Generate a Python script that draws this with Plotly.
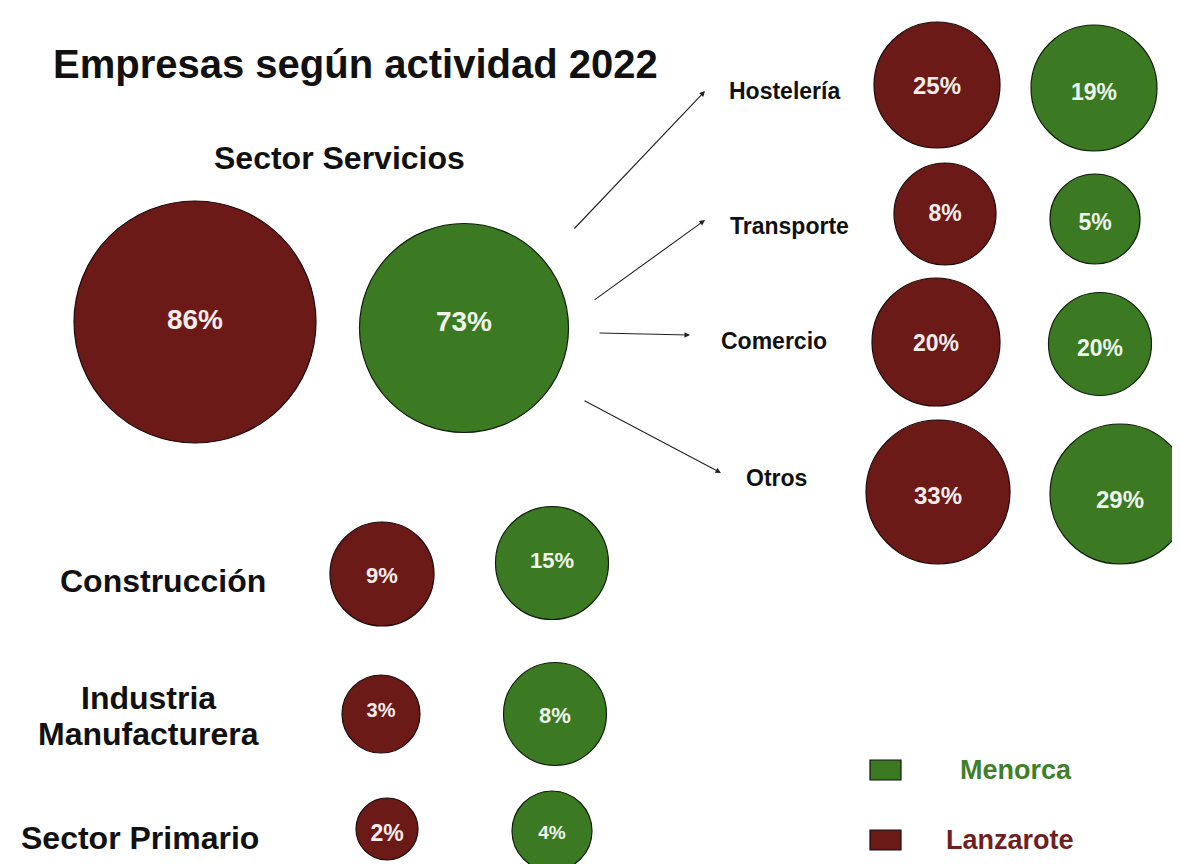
import plotly.graph_objects as go

# ---- data ----
categories = ["Sector Servicios", "Hostelería", "Transporte", "Comercio", "Otros",
              "Construcción", "Industria\nManufacturera", "Sector Primario"]
lanzarote = [86, 25, 8, 20, 33, 9, 3, 2]
menorca = [73, 19, 5, 20, 29, 15, 8, 4]
series_names = ["Menorca", "Lanzarote"]
title = "Empresas según actividad 2022"

# ---- layout (pixel space, y downward) ----
W, H = 1180, 864
lan_x = [187, 929, 937, 928, 930, 374, 373, 379]
men_x = [456, 1086, 1087, 1092, 1112, 544, 547, 544]
lan_y = [314, 77, 206, 334, 484, 566, 706, 821]
men_y = [320, 80, 211, 336, 486, 555, 706, 823]
lan_d = [242, 126, 102, 128, 144, 104, 78, 62]
men_d = [209, 126, 90, 103, 140, 113, 103, 80]
lan_text_y = [314, 80, 207, 337, 490, 569, 704, 827]
men_text_y = [316, 86, 216, 342, 494, 554, 709, 826]
lan_font = [28, 24, 23, 23, 24, 22, 20, 23]
men_font = [28, 23, 23, 23, 24, 22, 22, 19]

label_x = [331, 776, 781, 766, 768, 155, 140, 132]
label_y = [150, 83, 218, 333, 470, 573, 708, 830]
label_size = [32, 23, 23, 23, 23, 32, 32, 32]
line_gap = 36

# arrows: (tail, head) for the four sub-categories
arrow_tail = [(565, 222), (585, 293), (590, 325), (575, 392)]
arrow_head = [(697, 83), (697, 212), (682, 327), (713, 465)]

RED = "#6b1a17"
GREEN = "#3b7a22"
FONT = "Liberation Sans, Arial, sans-serif"

fig = go.Figure()

fig.add_trace(go.Scatter(
    x=lan_x, y=lan_y, mode="markers",
    marker=dict(size=lan_d, color=RED, line=dict(color="#1a0a0a", width=1.2), opacity=1),
    name=series_names[1], hoverinfo="skip", showlegend=False))
fig.add_trace(go.Scatter(
    x=men_x, y=men_y, mode="markers",
    marker=dict(size=men_d, color=GREEN, line=dict(color="#0f1f0a", width=1.2), opacity=1),
    name=series_names[0], hoverinfo="skip", showlegend=False))

fig.add_trace(go.Scatter(
    x=lan_x, y=lan_text_y, mode="text",
    text=[f"<b>{v}%</b>" for v in lanzarote], textposition="middle center",
    textfont=dict(color="#f4ecea", size=lan_font, family=FONT),
    hoverinfo="skip", showlegend=False))
fig.add_trace(go.Scatter(
    x=men_x, y=men_text_y, mode="text",
    text=[f"<b>{v}%</b>" for v in menorca], textposition="middle center",
    textfont=dict(color="#eef4ea", size=men_font, family=FONT),
    hoverinfo="skip", showlegend=False))

annotations = []
annotations.append(dict(x=347, y=56, text=f"<b>{title}</b>",
                        showarrow=False, font=dict(size=40, color="#111", family=FONT),
                        xanchor="center", yanchor="middle"))
for c, lx, ly, s in zip(categories, label_x, label_y, label_size):
    lines = c.split("\n")
    n = len(lines)
    for i, ln in enumerate(lines):
        yy = ly + (i - (n - 1) / 2) * line_gap
        annotations.append(dict(x=lx, y=yy, text=f"<b>{ln}</b>", showarrow=False,
                                font=dict(size=s, color="#111", family=FONT),
                                xanchor="center", yanchor="middle"))
for (tx, ty), (hx, hy) in zip(arrow_tail, arrow_head):
    annotations.append(dict(x=hx, y=hy, ax=tx, ay=ty, xref="x", yref="y",
                            axref="x", ayref="y", text="", showarrow=True,
                            arrowhead=2, arrowsize=1, arrowwidth=1.1,
                            arrowcolor="#222"))

# legend
legend_colors = [GREEN, RED]
legend_y = [762, 832]
legend_text_x = [1008, 1002]
legend_text_color = ["#3f7f2a", "#6e1f1f"]
shapes = []
for nm, col, ly, tx, tc in zip(series_names, legend_colors, legend_y, legend_text_x, legend_text_color):
    shapes.append(dict(type="rect", x0=862, x1=893, y0=ly - 10, y1=ly + 10,
                       fillcolor=col, line=dict(color="#111", width=1.2)))
    annotations.append(dict(x=tx, y=ly, text=f"<b>{nm}</b>", showarrow=False,
                            font=dict(size=27, color=tc, family=FONT),
                            xanchor="center", yanchor="middle"))

fig.update_layout(
    width=W, height=H,
    margin=dict(l=0, r=0, t=0, b=0),
    paper_bgcolor="white", plot_bgcolor="white",
    xaxis=dict(range=[0, W], visible=False, fixedrange=True),
    yaxis=dict(range=[H, 0], visible=False, fixedrange=True),
    annotations=annotations, shapes=shapes,
    showlegend=False,
)

fig.write_html("out.html")
